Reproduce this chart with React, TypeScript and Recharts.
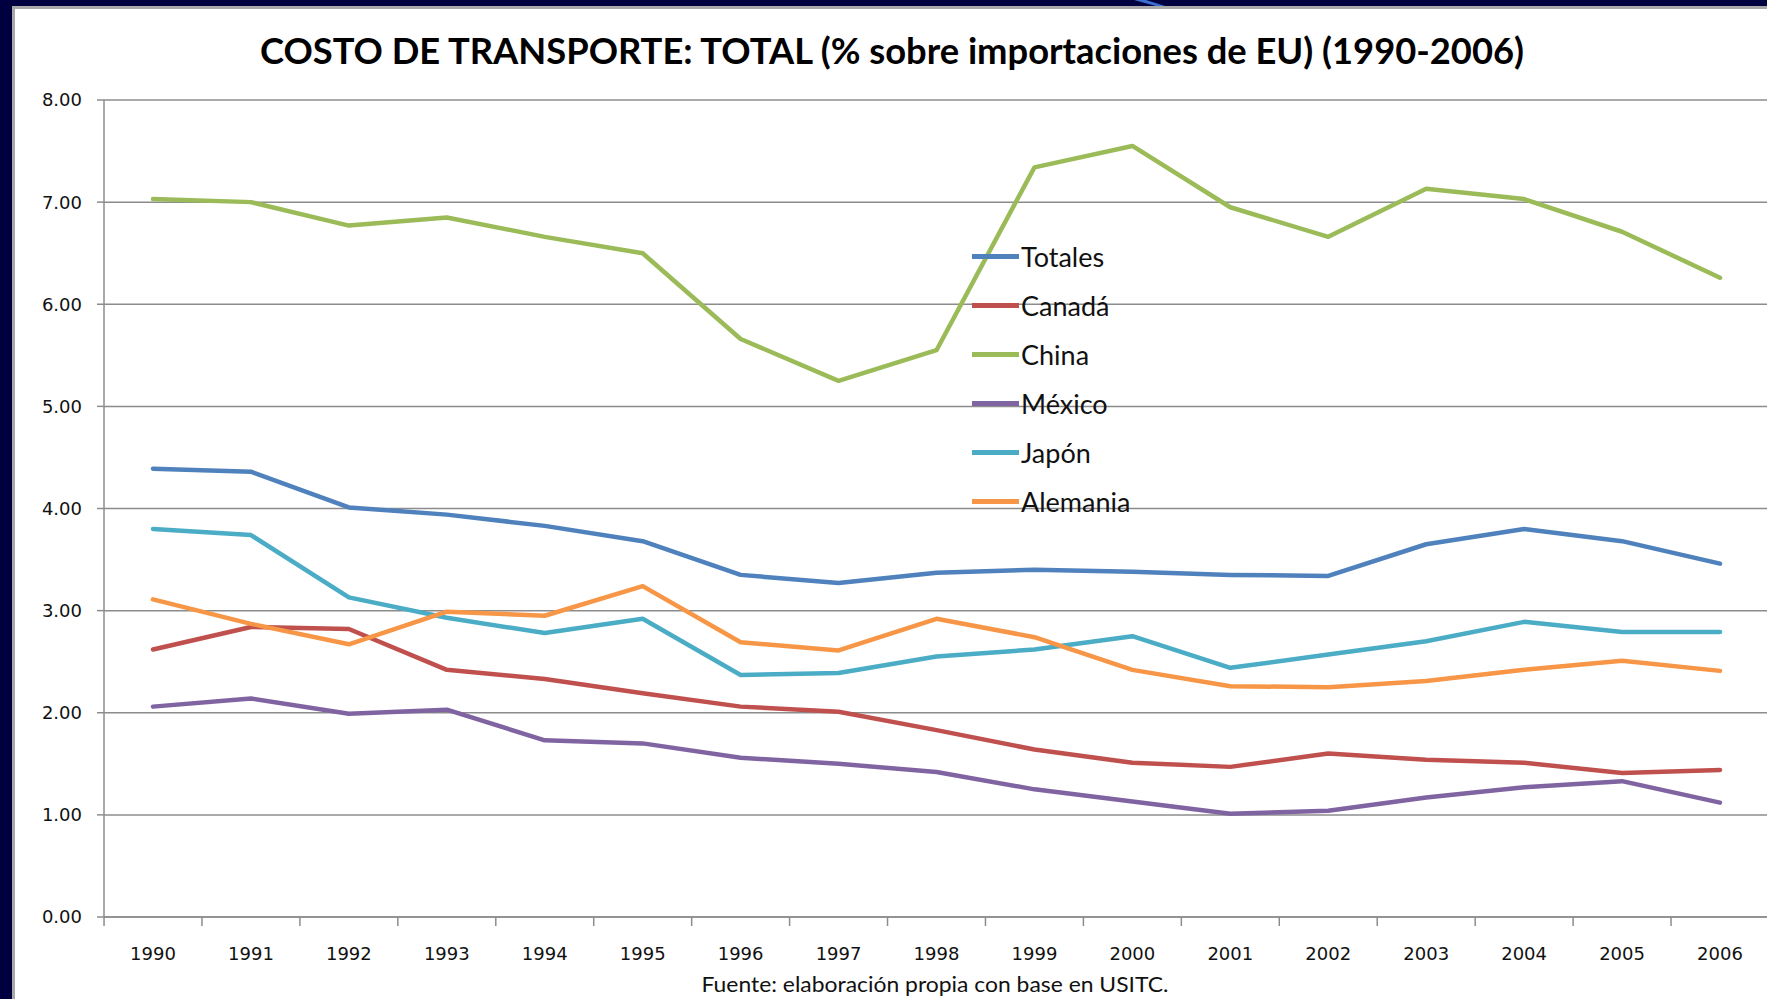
import { CartesianGrid, Legend, Line, LineChart, XAxis, YAxis } from 'recharts';

const years = ['1990', '1991', '1992', '1993', '1994', '1995', '1996', '1997', '1998', '1999', '2000', '2001', '2002', '2003', '2004', '2005', '2006'];

const totales = [4.39, 4.36, 4.01, 3.94, 3.83, 3.68, 3.35, 3.27, 3.37, 3.40, 3.38, 3.35, 3.34, 3.65, 3.80, 3.68, 3.46];
const canada = [2.62, 2.84, 2.82, 2.42, 2.33, 2.19, 2.06, 2.01, 1.83, 1.64, 1.51, 1.47, 1.60, 1.54, 1.51, 1.41, 1.44];
const china = [7.03, 7.00, 6.77, 6.85, 6.66, 6.50, 5.66, 5.25, 5.55, 7.34, 7.55, 6.95, 6.66, 7.13, 7.03, 6.71, 6.26];
const mexico = [2.06, 2.14, 1.99, 2.03, 1.73, 1.70, 1.56, 1.50, 1.42, 1.25, 1.13, 1.01, 1.04, 1.17, 1.27, 1.33, 1.12];
const japon = [3.80, 3.74, 3.13, 2.93, 2.78, 2.92, 2.37, 2.39, 2.55, 2.62, 2.75, 2.44, 2.57, 2.70, 2.89, 2.79, 2.79];
const alemania = [3.11, 2.87, 2.67, 2.99, 2.95, 3.24, 2.69, 2.61, 2.92, 2.74, 2.42, 2.26, 2.25, 2.31, 2.42, 2.51, 2.41];

const yTicks = [0, 1, 2, 3, 4, 5, 6, 7, 8];

const series = [
  { key: 'totales', name: 'Totales', color: '#4F81BD' },
  { key: 'canada', name: 'Canadá', color: '#C0504D' },
  { key: 'china', name: 'China', color: '#9BBB59' },
  { key: 'mexico', name: 'México', color: '#8064A2' },
  { key: 'japon', name: 'Japón', color: '#4BACC6' },
  { key: 'alemania', name: 'Alemania', color: '#F79646' },
];

const data = years.map((year, i) => ({
  year,
  totales: totales[i],
  canada: canada[i],
  china: china[i],
  mexico: mexico[i],
  japon: japon[i],
  alemania: alemania[i],
}));

const AXIS = '#8c8c8c';
const PAD = 49;

// excel style: ticks between categories, label in the middle
const YearTick = (props: any) => {
  const { x, y, payload, index, width, visibleTicksCount } = props;
  const n = visibleTicksCount || years.length;
  const step = width ? (width - 2 * PAD) / (n - 1) : 98;
  return (
    <g>
      <line x1={x - step / 2} x2={x - step / 2} y1={y} y2={y + 9} stroke={AXIS} strokeWidth={1.5} />
      {index === n - 1 && (
        <line x1={x + step / 2} x2={x + step / 2} y1={y} y2={y + 9} stroke={AXIS} strokeWidth={1.5} />
      )}
      <text x={x} y={y + 43} textAnchor="middle" fontFamily="DejaVu Sans" fontSize={18} fill="#111">
        {payload.value}
      </text>
    </g>
  );
};

const LegendBox = () => (
  <div>
    {series.map((s) => (
      <div key={s.key} style={{ display: 'flex', alignItems: 'center', height: 49 }}>
        <span style={{ display: 'inline-block', width: 47, height: 4.5, background: s.color }} />
        <span style={{ marginLeft: 2, fontFamily: 'Lato', fontSize: 27, color: '#111', lineHeight: 1 }}>{s.name}</span>
      </div>
    ))}
  </div>
);

export default function App() {
  return (
    <div style={{ position: 'absolute', left: 0, top: 0, width: 1767, height: 999, overflow: 'hidden', background: '#000040' }}>
      <div
        style={{
          position: 'absolute',
          left: 12,
          top: 6,
          width: 1800,
          height: 1050,
          background: '#fff',
          borderLeft: '3px solid #a8a8a8',
          borderTop: '3px solid #a8a8a8',
          boxSizing: 'border-box',
        }}
      />
      <svg width={1767} height={999} style={{ position: 'absolute', left: 0, top: 0 }}>
        <polygon points="1134,0 1146,0 1165,6 1156,6" fill="#3a6fd0" />
      </svg>
      <div style={{ position: 'absolute', left: 0, top: 0 }}>
        <LineChart width={1800} height={999} data={data} margin={{ top: 100, right: 31, bottom: 0, left: 0 }}>
          <CartesianGrid vertical={false} stroke={AXIS} strokeWidth={1.5} />
          <XAxis
            dataKey="year"
            height={82}
            interval={0}
            padding={{ left: PAD, right: PAD }}
            axisLine={{ stroke: AXIS, strokeWidth: 1.5 }}
            tickLine={false}
            tickSize={0}
            tickMargin={0}
            tick={<YearTick />}
          />
          <YAxis
            width={104}
            domain={[0, 8]}
            ticks={yTicks}
            interval={0}
            tickFormatter={(v: number) => v.toFixed(2)}
            axisLine={{ stroke: AXIS, strokeWidth: 1.5 }}
            tickLine={{ stroke: AXIS, strokeWidth: 1.5 }}
            tickSize={7}
            tickMargin={15}
            tick={{ fontFamily: 'DejaVu Sans', fontSize: 18, fill: '#111' }}
          />
          <Legend
            layout="vertical"
            align="center"
            verticalAlign="middle"
            content={<LegendBox />}
            wrapperStyle={{ position: 'absolute', left: 972, top: 232, width: 220 }}
          />
          {series.map((s) => (
            <Line
              key={s.key}
              type="linear"
              dataKey={s.key}
              name={s.name}
              stroke={s.color}
              strokeWidth={4.5}
              strokeLinejoin="round"
              strokeLinecap="round"
              dot={false}
              activeDot={false}
              isAnimationActive={false}
            />
          ))}
        </LineChart>
      </div>
      <svg width={1767} height={999} style={{ position: 'absolute', left: 0, top: 0, pointerEvents: 'none' }}>
        <text
          x={892}
          y={64}
          textAnchor="middle"
          fontFamily="Lato"
          fontWeight="bold"
          fontSize={36}
          fill="#000"
          textLength={1264}
          lengthAdjust="spacingAndGlyphs"
        >
          COSTO DE TRANSPORTE: TOTAL (% sobre importaciones de EU) (1990-2006)
        </text>
        <text
          x={935}
          y={992}
          textAnchor="middle"
          fontFamily="Lato"
          fontSize={22}
          fill="#111"
          textLength={467}
          lengthAdjust="spacingAndGlyphs"
        >
          Fuente: elaboración propia con base en USITC.
        </text>
      </svg>
    </div>
  );
}
